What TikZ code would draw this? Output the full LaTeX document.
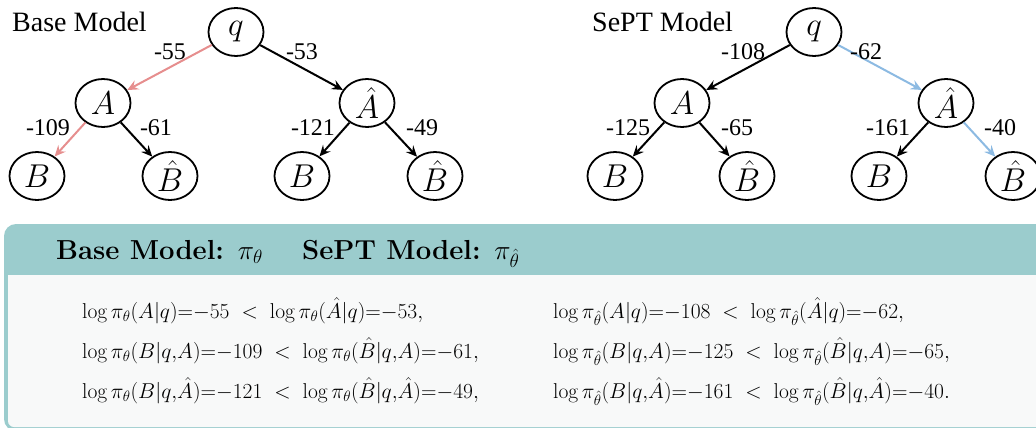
\RequirePackage{fix-cm}
\documentclass[tikz,border=0pt]{standalone}
\usepackage{fontspec}
\newfontfamily\tnr{Liberation Serif}
\usetikzlibrary{shapes.geometric,arrows.meta}
\definecolor{redarr}{RGB}{230,142,142}
\definecolor{bluearr}{RGB}{140,186,226}
\definecolor{tealh}{RGB}{155,204,205}
\definecolor{bodyc}{RGB}{248,249,249}
\tikzset{
 tnode/.style={ellipse,draw,line width=1.8pt,minimum width=55pt,minimum height=48pt,inner sep=0pt,font=\fontsize{33}{33}\selectfont},
 arr/.style={line width=2pt,-{Stealth[length=11pt,width=10pt,inset=4pt]}},
 elab/.style={font=\tnr\fontsize{24}{24}\selectfont,inner sep=0pt},
 ttl/.style={font=\tnr\fontsize{28}{28}\selectfont,inner sep=0pt,anchor=west},
 hdr/.style={font=\fontsize{27.5}{27.5}\selectfont\bfseries,inner sep=0pt,anchor=base west},
 eq/.style={font=\fontsize{21.5}{21.5}\selectfont,anchor=base west,inner sep=0pt},
}
\begin{document}
\begin{tikzpicture}[x=1pt,y=-1pt]
\useasboundingbox (0,0) rectangle (1036,428);
% ---------- box ----------
\fill[tealh,rounded corners=12pt] (4,224) rectangle (1060,431);
\fill[bodyc] (1060,275) -- (8,275) [rounded corners=6pt] -- (8,427) -- (1060,427) -- cycle;
\node[hdr] (h1) at (56,259) {Base Model: $\pi_\theta$};
\node[hdr] (h2) at (302,259) {SePT Model: $\pi_{\hat\theta}$};
\node[eq] (l1) at (82,318) {$\log\pi_\theta(A|q){=}{-}55\;<\;\log\pi_\theta(\hat{A}|q){=}{-}53,$};
\node[eq] (l2) at (82,358) {$\log\pi_\theta(B|q{,}A){=}{-}109\;<\;\log\pi_\theta(\hat{B}|q{,}A){=}{-}61,$};
\node[eq] (l3) at (82,398) {$\log\pi_\theta(B|q{,}\hat{A}){=}{-}121\;<\;\log\pi_\theta(\hat{B}|q{,}\hat{A}){=}{-}49,$};
\node[eq] (r1) at (553,318) {$\log\pi_{\hat\theta}(A|q){=}{-}108\;<\;\log\pi_{\hat\theta}(\hat{A}|q){=}{-}62,$};
\node[eq] (r2) at (553,358) {$\log\pi_{\hat\theta}(B|q{,}A){=}{-}125\;<\;\log\pi_{\hat\theta}(\hat{B}|q{,}A){=}{-}65,$};
\node[eq] (r3) at (553,398) {$\log\pi_{\hat\theta}(B|q{,}\hat{A}){=}{-}161\;<\;\log\pi_{\hat\theta}(\hat{B}|q{,}\hat{A}){=}{-}40.$};
% ---------- left tree ----------
\node[ttl] (t1) at (12,22) {Base Model};
\node[tnode] (q1) at (236,32) {$q$};
\node[tnode] (a1) at (103,103) {$A$};
\node[tnode] (ah1) at (367,103) {$\hat{A}$};
\node[tnode] (b11) at (37,176) {$B$};
\node[tnode] (bh11) at (170,176) {$\hat{B}$};
\node[tnode] (b12) at (302,176) {$B$};
\node[tnode] (bh12) at (435,176) {$\hat{B}$};
\draw[arr,redarr] (q1) -- (a1);
\draw[arr] (q1) -- (ah1);
\draw[arr,redarr] (a1) -- (b11);
\draw[arr] (a1) -- (bh11);
\draw[arr] (ah1) -- (b12);
\draw[arr] (ah1) -- (bh12);
\node[elab] (e1) at (170,52) {-55};
\node[elab] (e2) at (302,52) {-53};
\node[elab] (e3) at (48,128) {-109};
\node[elab] (e4) at (156,128) {-61};
\node[elab] (e5) at (313,128) {-121};
\node[elab] (e6) at (422,128) {-49};
% ---------- right tree ----------
\node[ttl] (t2) at (592,22) {SePT Model};
\node[tnode] (q2) at (814,32) {$q$};
\node[tnode] (a2) at (682,103) {$A$};
\node[tnode] (ah2) at (946,103) {$\hat{A}$};
\node[tnode] (b21) at (615,176) {$B$};
\node[tnode] (bh21) at (747,176) {$\hat{B}$};
\node[tnode] (b22) at (879,176) {$B$};
\node[tnode] (bh22) at (1013,176) {$\hat{B}$};
\draw[arr] (q2) -- (a2);
\draw[arr,bluearr] (q2) -- (ah2);
\draw[arr] (a2) -- (b21);
\draw[arr] (a2) -- (bh21);
\draw[arr] (ah2) -- (b22);
\draw[arr,bluearr] (ah2) -- (bh22);
\node[elab] (f1) at (743,52) {-108};
\node[elab] (f2) at (866,52) {-62};
\node[elab] (f3) at (628,128) {-125};
\node[elab] (f4) at (737,128) {-65};
\node[elab] (f5) at (888,128) {-161};
\node[elab] (f6) at (1000,128) {-40};
\end{tikzpicture}
\end{document}
